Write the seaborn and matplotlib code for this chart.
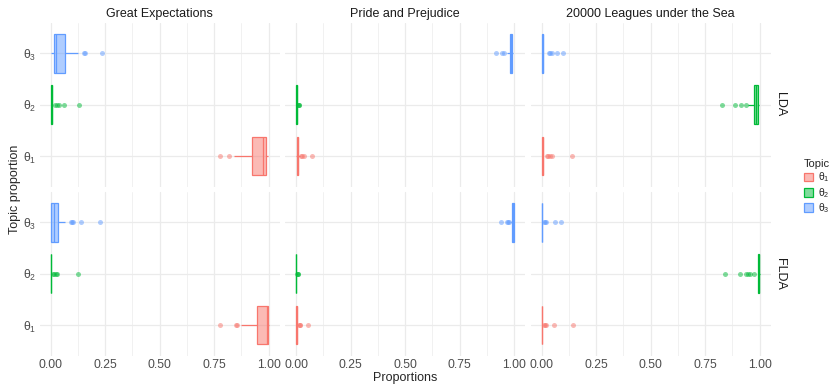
import pandas as pd
import matplotlib.pyplot as plt
import seaborn as sns
from matplotlib.colors import to_rgba
from matplotlib.patches import Patch

# topic proportions per chapter
ge_lda_t1 = [0.775, 0.82, 0.84, 0.90, 0.92, 0.925, 0.93, 0.95, 0.96, 0.97, 0.975,
             0.978, 0.98, 0.985, 0.988, 0.99, 0.99, 0.992, 0.995, 0.998]
ge_lda_t2 = [0.0, 0.001, 0.001, 0.002, 0.002, 0.003, 0.003, 0.003, 0.004, 0.004, 0.005,
             0.005, 0.006, 0.006, 0.007, 0.008, 0.02, 0.03, 0.04, 0.06, 0.13]
ge_lda_t3 = [0.002, 0.008, 0.010, 0.012, 0.014, 0.015, 0.017, 0.019, 0.021, 0.022, 0.024,
             0.028, 0.035, 0.045, 0.060, 0.066, 0.09, 0.128, 0.155, 0.16, 0.234]
ge_flda_t1 = [0.775, 0.85, 0.855, 0.875, 0.92, 0.948, 0.96, 0.97, 0.978, 0.985, 0.992,
              0.994, 0.995, 0.996, 0.997, 0.998, 0.999, 0.999, 1.0, 1.0, 1.0]
ge_flda_t2 = [0.0, 0.0, 0.0, 0.001, 0.001, 0.001, 0.001, 0.002, 0.002, 0.002, 0.002,
              0.003, 0.003, 0.003, 0.004, 0.004, 0.012, 0.018, 0.025, 0.032, 0.125]
ge_flda_t3 = [0.0, 0.0, 0.001, 0.001, 0.002, 0.002, 0.003, 0.004, 0.006, 0.008, 0.010,
              0.012, 0.014, 0.017, 0.020, 0.024, 0.028, 0.032, 0.035, 0.068, 0.092,
              0.098, 0.105, 0.14, 0.225]

pp_lda_t1 = [0.002, 0.003, 0.004, 0.005, 0.005, 0.006, 0.006, 0.007, 0.007, 0.008, 0.008,
             0.009, 0.009, 0.010, 0.010, 0.011, 0.018, 0.022, 0.028, 0.037, 0.073]
pp_lda_t2 = [0.0, 0.0, 0.001, 0.001, 0.001, 0.002, 0.002, 0.002, 0.002, 0.003, 0.003,
             0.003, 0.003, 0.004, 0.004, 0.004, 0.005, 0.006, 0.009, 0.012, 0.015]
pp_lda_t3 = [0.917, 0.945, 0.955, 0.965, 0.972, 0.98, 0.982, 0.983, 0.984, 0.985, 0.985,
             0.986, 0.987, 0.988, 0.989, 0.99, 0.991, 0.992, 0.993, 0.994, 0.995]
pp_flda_t1 = [0.0, 0.0, 0.001, 0.001, 0.001, 0.002, 0.002, 0.002, 0.003, 0.003, 0.003,
              0.003, 0.004, 0.004, 0.004, 0.005, 0.006, 0.012, 0.016, 0.02, 0.055]
pp_flda_t2 = [0.0, 0.0, 0.0, 0.0, 0.001, 0.001, 0.001, 0.001, 0.001, 0.001, 0.002,
              0.002, 0.002, 0.002, 0.002, 0.002, 0.003, 0.003, 0.006, 0.008, 0.01]
pp_flda_t3 = [0.94, 0.968, 0.972, 0.976, 0.985, 0.99, 0.991, 0.992, 0.993, 0.994, 0.995,
              0.995, 0.996, 0.996, 0.997, 0.997, 0.998, 0.998, 0.999, 0.999, 1.0]

tl_lda_t1 = [0.0, 0.001, 0.002, 0.002, 0.003, 0.003, 0.004, 0.004, 0.005, 0.005, 0.006,
             0.006, 0.007, 0.007, 0.008, 0.009, 0.025, 0.03, 0.04, 0.05, 0.14]
tl_lda_t2 = [0.826, 0.889, 0.916, 0.939, 0.947, 0.973, 0.976, 0.979, 0.981, 0.983, 0.985,
             0.986, 0.987, 0.988, 0.99, 0.992, 0.993, 0.994, 0.995, 0.997, 0.999]
tl_lda_t3 = [0.0, 0.001, 0.001, 0.002, 0.002, 0.003, 0.003, 0.004, 0.004, 0.005, 0.005,
             0.005, 0.006, 0.006, 0.007, 0.008, 0.035, 0.04, 0.05, 0.07, 0.1]
tl_flda_t1 = [0.0, 0.0, 0.0, 0.0, 0.001, 0.001, 0.001, 0.001, 0.002, 0.002, 0.002,
              0.002, 0.002, 0.003, 0.003, 0.003, 0.01, 0.016, 0.02, 0.055, 0.145]
tl_flda_t2 = [0.84, 0.91, 0.935, 0.945, 0.955, 0.975, 0.993, 0.994, 0.995, 0.996, 0.996,
              0.997, 0.997, 0.997, 0.998, 0.998, 0.998, 0.999, 0.999, 0.999, 1.0,
              1.0, 1.0, 1.0, 1.0]
tl_flda_t3 = [0.0, 0.0, 0.0, 0.0, 0.001, 0.001, 0.001, 0.001, 0.001, 0.002, 0.002,
              0.002, 0.002, 0.003, 0.003, 0.003, 0.01, 0.015, 0.02, 0.06, 0.09]

books = ["Great Expectations", "Pride and Prejudice", "20000 Leagues under the Sea"]
models = ["LDA", "FLDA"]
topics = ["θ$_1$", "θ$_2$", "θ$_3$"]
topic_colors = ["#F8766D", "#00BA38", "#619CFF"]

series = {
    ("Great Expectations", "LDA"): [ge_lda_t1, ge_lda_t2, ge_lda_t3],
    ("Great Expectations", "FLDA"): [ge_flda_t1, ge_flda_t2, ge_flda_t3],
    ("Pride and Prejudice", "LDA"): [pp_lda_t1, pp_lda_t2, pp_lda_t3],
    ("Pride and Prejudice", "FLDA"): [pp_flda_t1, pp_flda_t2, pp_flda_t3],
    ("20000 Leagues under the Sea", "LDA"): [tl_lda_t1, tl_lda_t2, tl_lda_t3],
    ("20000 Leagues under the Sea", "FLDA"): [tl_flda_t1, tl_flda_t2, tl_flda_t3],
}

rows = []
for (book, model), vals in series.items():
    for topic, v in zip(topics, vals):
        for x in v:
            rows.append({"book": book, "model": model, "topic": topic, "value": x})
df = pd.DataFrame(rows)

sns.set_theme(style="white")
plt.rcParams["font.family"] = ["Liberation Sans", "DejaVu Sans"]
plt.rcParams["mathtext.fontset"] = "custom"
plt.rcParams["mathtext.rm"] = "Liberation Sans"
plt.rcParams["mathtext.it"] = "Liberation Sans:italic"

W, H = 833, 387
fig = plt.figure(figsize=(W / 100, H / 100), dpi=100)

order = topics[::-1]  # θ3 at the top
panel_w = 240
col_left = [39.6, 285.1, 530.6]
row_top = [22.5, 191.5]
panel_h = 164.2

for r, model in enumerate(models):
    for c, book in enumerate(books):
        ax = fig.add_axes([col_left[c] / W, 1 - (row_top[r] + panel_h) / H,
                           panel_w / W, panel_h / H])
        ax.set_axisbelow(True)
        sub = df[(df.book == book) & (df.model == model)]
        for t, col in zip(topics, topic_colors):
            sns.boxplot(data=sub[sub.topic == t], x="value", y="topic", order=order,
                        color=col, linecolor=col, linewidth=0.9, width=0.75,
                        showcaps=False, fliersize=3.6, ax=ax,
                        boxprops=dict(facecolor=to_rgba(col, 0.5)),
                        flierprops=dict(marker="o", markerfacecolor=col,
                                        markeredgecolor="none", alpha=0.5))
        ax.set_xlim(-0.05, 1.05)
        ax.set_ylim(2.6, -0.6)
        ax.set_xticks([0, 0.25, 0.5, 0.75, 1.0])
        ax.set_xticks([0.125, 0.375, 0.625, 0.875], minor=True)
        ax.set_xticklabels(["0.00", "0.25", "0.50", "0.75", "1.00"])
        ax.grid(which="major", color="#EBEBEB", linewidth=0.9)
        ax.grid(which="minor", axis="x", color="#EBEBEB", linewidth=0.5)
        ax.tick_params(which="both", length=0, labelsize=8.8, colors="#4D4D4D", pad=2.5)
        for s in ax.spines.values():
            s.set_visible(False)
        ax.set_xlabel("")
        ax.set_ylabel("")
        if c > 0:
            ax.set_yticklabels([])
        if r == 0:
            ax.set_xticklabels([])
            ax.set_title(book, fontsize=9, color="#1A1A1A", pad=4)
        if c == 2:
            ax.text(1.013, 0.5, model, transform=ax.transAxes, rotation=-90,
                    ha="left", va="center", fontsize=9, color="#1A1A1A")

fig.text(405 / W, 1 - 378 / H, "Proportions", ha="center", va="center", fontsize=9)
fig.text(15 / W, 1 - 189 / H, "Topic proportion", ha="center", va="center",
         rotation=90, fontsize=9)

handles = [Patch(facecolor=to_rgba(col, 0.5), edgecolor=col, linewidth=0.9)
           for col in topic_colors]
fig.legend(handles, topics, title="Topic", loc="center left",
           bbox_to_anchor=(804 / W, 1 - 187 / H), frameon=False, fontsize=7.5,
           title_fontsize=8, handlelength=0.9, handleheight=0.9,
           handletextpad=0.4, labelspacing=0.15, alignment="left",
           borderpad=0, borderaxespad=0)

fig.savefig("out.png", dpi=100)
